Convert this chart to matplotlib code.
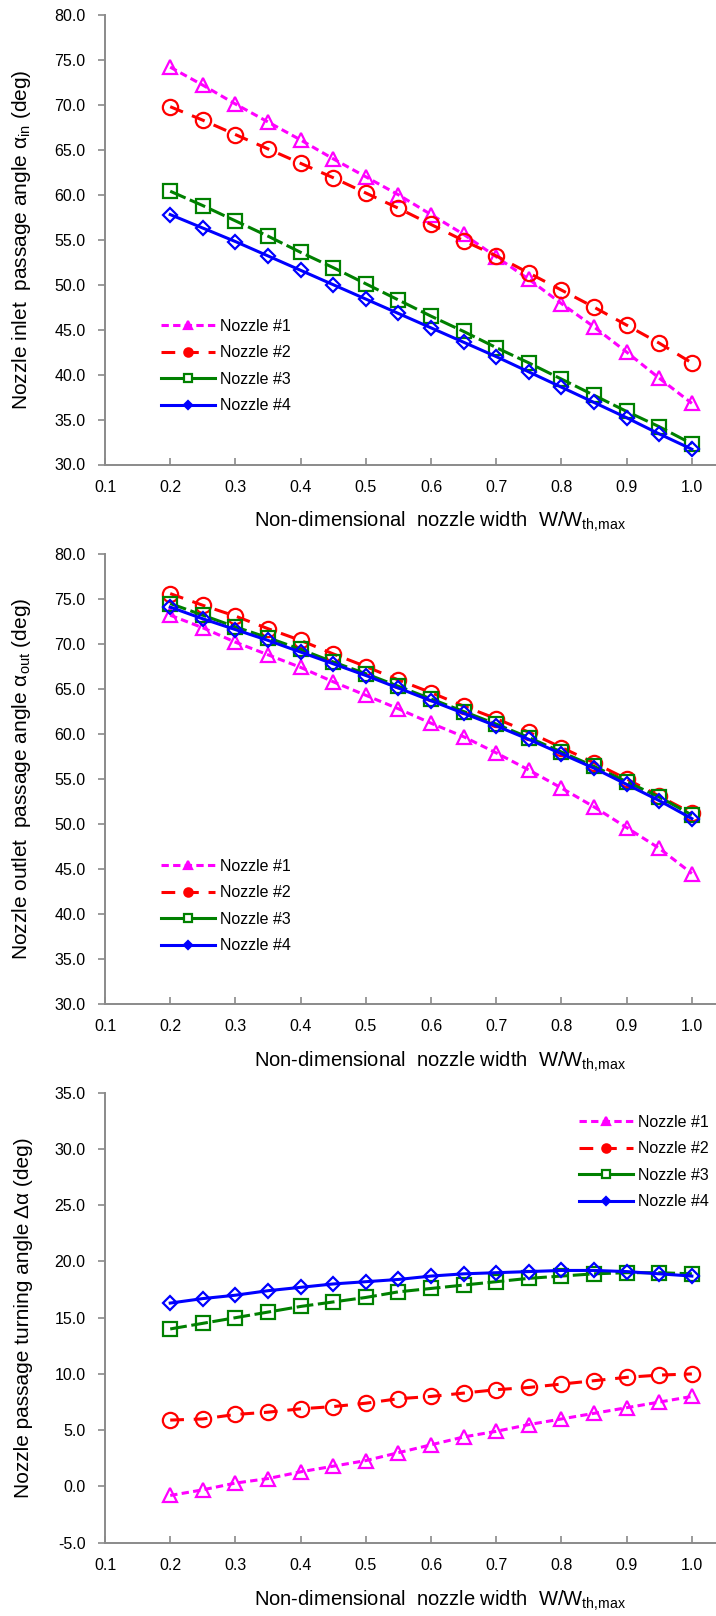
import numpy as np
import matplotlib
matplotlib.use('Agg')
import matplotlib.pyplot as plt
from matplotlib.lines import Line2D

plt.rcParams['font.family'] = ['Liberation Sans', 'DejaVu Sans']
plt.rcParams['mathtext.fontset'] = 'custom'
plt.rcParams['mathtext.rm'] = 'Liberation Sans'

# nozzle width ratio W/W_th,max
width_ratio = [0.20, 0.25, 0.30, 0.35, 0.40, 0.45, 0.50, 0.55, 0.60,
               0.65, 0.70, 0.75, 0.80, 0.85, 0.90, 0.95, 1.00]
nozzle_names = ['Nozzle #1', 'Nozzle #2', 'Nozzle #3', 'Nozzle #4']

# inlet passage angle (deg)
inlet_n1 = [74.2, 72.2, 70.1, 68.1, 66.1, 64.0, 62.0, 60.0, 57.8, 55.6, 53.1, 50.6, 47.9, 45.3, 42.5, 39.6, 36.8]
inlet_n2 = [69.8, 68.3, 66.7, 65.1, 63.5, 61.9, 60.2, 58.5, 56.7, 54.9, 53.2, 51.3, 49.4, 47.5, 45.5, 43.5, 41.3]
inlet_n3 = [60.4, 58.8, 57.1, 55.4, 53.6, 51.9, 50.1, 48.3, 46.5, 44.8, 43.0, 41.3, 39.5, 37.7, 35.9, 34.2, 32.3]
inlet_n4 = [57.8, 56.3, 54.8, 53.2, 51.6, 50.0, 48.4, 46.8, 45.2, 43.6, 42.0, 40.3, 38.6, 36.9, 35.2, 33.4, 31.7]

# outlet passage angle (deg)
outlet_n1 = [73.2, 71.8, 70.2, 68.8, 67.4, 65.8, 64.3, 62.8, 61.2, 59.7, 57.9, 56.0, 54.0, 51.9, 49.6, 47.3, 44.5]
outlet_n2 = [75.6, 74.3, 73.1, 71.7, 70.4, 68.9, 67.5, 66.0, 64.6, 63.1, 61.7, 60.2, 58.5, 56.8, 55.0, 53.1, 51.2]
outlet_n3 = [74.5, 73.2, 71.9, 70.7, 69.4, 68.0, 66.7, 65.3, 63.9, 62.5, 61.1, 59.6, 58.0, 56.4, 54.7, 53.0, 51.0]
outlet_n4 = [74.1, 72.8, 71.6, 70.4, 69.1, 67.8, 66.5, 65.1, 63.7, 62.3, 60.9, 59.4, 57.8, 56.2, 54.4, 52.6, 50.6]

# turning angle (deg)
turn_n1 = [-0.8, -0.3, 0.3, 0.7, 1.3, 1.8, 2.3, 3.0, 3.7, 4.4, 4.9, 5.5, 6.0, 6.5, 7.0, 7.5, 8.0]
turn_n2 = [5.9, 6.0, 6.4, 6.6, 6.9, 7.1, 7.4, 7.8, 8.0, 8.3, 8.6, 8.8, 9.1, 9.4, 9.7, 9.9, 10.0]
turn_n3 = [14.0, 14.5, 15.0, 15.5, 16.0, 16.4, 16.8, 17.3, 17.6, 17.9, 18.2, 18.5, 18.7, 18.9, 19.0, 19.0, 18.9]
turn_n4 = [16.3, 16.7, 17.0, 17.4, 17.7, 18.0, 18.2, 18.4, 18.7, 18.9, 19.0, 19.1, 19.2, 19.2, 19.1, 18.9, 18.7]

styles = [
    dict(color='#FF00FF', ls=(0, (2.4, 1.4)), marker='^', ms=10.5),
    dict(color='#FF0000', ls=(0, (4.5, 3.2)), marker='o', ms=11),
    dict(color='#008000', ls=(0, (5.5, 1.5)), marker='s', ms=10),
    dict(color='#0000FF', ls='-', marker='D', ms=7.5),
]
legend_markers = [('^', 6, None), ('o', 6, None), ('s', 5.5, 'white'), ('D', 4.5, None)]

W, H = 716, 1616
fig = plt.figure(figsize=(W / 100, H / 100), dpi=100)


def make_axes(top_px, bottom_px):
    left_px = 105
    return fig.add_axes([left_px / W, 1 - bottom_px / H, (W - left_px) / W, (bottom_px - top_px) / H])


def draw_panel(ax, series, ylim, ylabel, legend_xy):
    for vals, st in zip(series, styles):
        ax.plot(width_ratio, vals, color=st['color'], ls=st['ls'], lw=2.2,
                marker=st['marker'], ms=st['ms'], mfc='none', mec=st['color'], mew=1.6)
    ax.set_xlim(0.1, 1.037)
    ax.set_ylim(*ylim)
    ax.set_xticks(np.arange(0.1, 1.01, 0.1))
    ax.set_xticklabels([f'{t:.1f}' for t in np.arange(0.1, 1.01, 0.1)])
    yt = np.arange(ylim[0], ylim[1] + 0.1, 5.0)
    ax.set_yticks(yt)
    ax.set_yticklabels([f'{t:.1f}' for t in yt])
    for s in ('top', 'right'):
        ax.spines[s].set_visible(False)
    for s in ('left', 'bottom'):
        ax.spines[s].set_color('#8a8a8a')
        ax.spines[s].set_linewidth(1.4)
    ax.tick_params(axis='x', direction='in', length=5, width=1.2, color='#8a8a8a',
                   labelsize=11.5, pad=11)
    ax.tick_params(axis='y', direction='out', length=5, width=1.2, color='#8a8a8a',
                   labelsize=11.5, pad=9)
    ax.set_xlabel('Non-dimensional  nozzle width  W/W$_{\\mathregular{th{,}max}}$', fontsize=14.5)
    ax.xaxis.set_label_coords(0.548, -0.139)
    ax.xaxis.label.set_va('baseline')
    ax.set_ylabel(ylabel, fontsize=15, family=['Liberation Sans Narrow', 'Liberation Sans'])
    ax.yaxis.set_label_coords(-0.118, 0.5)

    handles = []
    for st, (m, ms, fc) in zip(styles, legend_markers):
        ls = '-' if st['marker'] == 's' else st['ls']
        handles.append(Line2D([], [], color=st['color'], ls=ls, lw=2.2, marker=m, ms=ms,
                              mfc=fc if fc else st['color'], mec=st['color'], mew=1.6))
    ax.legend(handles, nozzle_names, loc='center left', bbox_to_anchor=legend_xy,
              frameon=False, fontsize=11.5, handlelength=3.4, handletextpad=0.3,
              labelspacing=0.72, borderpad=0, borderaxespad=0)


ax1 = make_axes(15, 464.5)
draw_panel(ax1, [inlet_n1, inlet_n2, inlet_n3, inlet_n4], (30, 80),
           'Nozzle inlet  passage angle α$_{\\mathregular{in}}$ (deg)', (0.0917, 0.219))

ax2 = make_axes(554, 1004)
draw_panel(ax2, [outlet_n1, outlet_n2, outlet_n3, outlet_n4], (30, 80),
           'Nozzle outlet  passage angle α$_{\\mathregular{out}}$ (deg)', (0.0917, 0.218))

ax3 = make_axes(1092.7, 1542.7)
draw_panel(ax3, [turn_n1, turn_n2, turn_n3, turn_n4], (-5, 35),
           'Nozzle passage turning angle Δα (deg)', (0.776, 0.846))

fig.savefig('out.png', dpi=100)
